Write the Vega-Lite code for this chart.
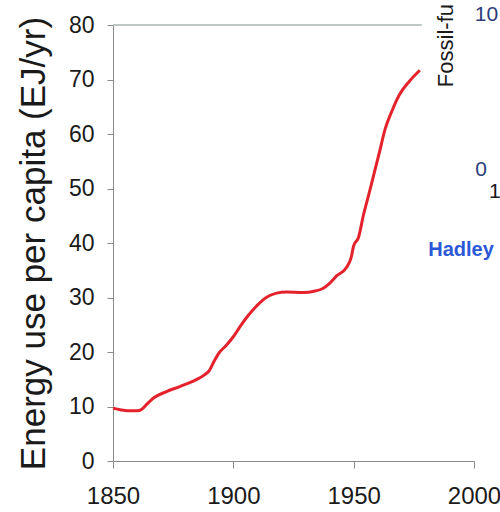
{
  "$schema": "https://vega.github.io/schema/vega-lite/v6.json",
  "width": 361,
  "height": 436,
  "autosize": {"type": "none"},
  "padding": {"left": 113, "top": 25, "right": 26, "bottom": 51},
  "background": "white",
  "config": {
    "view": {"stroke": null},
    "font": "Liberation Sans",
    "axis": {"labelFont": "Liberation Sans", "titleFont": "Liberation Sans"}
  },
  "datasets": {
    "energy": [
      {"year": 1850, "value": 9.7},
      {"year": 1853, "value": 9.4},
      {"year": 1856, "value": 9.2},
      {"year": 1860, "value": 9.2},
      {"year": 1862, "value": 9.5},
      {"year": 1864, "value": 10.4},
      {"year": 1867, "value": 11.6},
      {"year": 1872, "value": 12.7},
      {"year": 1878, "value": 13.7},
      {"year": 1884, "value": 14.8},
      {"year": 1888, "value": 15.8},
      {"year": 1890, "value": 16.6},
      {"year": 1892, "value": 18.3},
      {"year": 1894, "value": 19.8},
      {"year": 1897, "value": 21.2},
      {"year": 1900, "value": 22.8},
      {"year": 1903, "value": 24.8},
      {"year": 1906, "value": 26.6},
      {"year": 1910, "value": 28.6},
      {"year": 1914, "value": 30.1},
      {"year": 1918, "value": 30.8},
      {"year": 1922, "value": 31.0},
      {"year": 1929, "value": 30.9},
      {"year": 1934, "value": 31.2},
      {"year": 1937, "value": 31.6},
      {"year": 1940, "value": 32.6},
      {"year": 1943, "value": 34.0},
      {"year": 1947, "value": 35.5},
      {"year": 1949, "value": 37.4},
      {"year": 1950, "value": 39.5},
      {"year": 1952, "value": 41.0},
      {"year": 1954, "value": 45.0},
      {"year": 1956.7, "value": 49.6},
      {"year": 1960.9, "value": 57.0},
      {"year": 1963, "value": 60.8},
      {"year": 1965.7, "value": 64.0},
      {"year": 1969, "value": 67.2},
      {"year": 1973, "value": 69.6},
      {"year": 1977.5, "value": 71.7}
    ]
  },
  "layer": [
    {
      "data": {"name": "energy"},
      "mark": {"type": "line", "color": "#e3222c", "strokeWidth": 3, "interpolate": "monotone"},
      "encoding": {
        "x": {
          "field": "year", "type": "quantitative",
          "scale": {"domain": [1850, 2000], "nice": false, "zero": false},
          "axis": {
            "values": [1850, 1900, 1950, 2000], "format": "d", "title": null, "grid": false,
            "labelFontSize": 24, "labelColor": "#1a1a1a", "labelPadding": 16,
            "tickSize": 7, "tickColor": "#8a8a8a", "domainColor": "#8a8a8a",
            "labelFlush": false, "labelOverlap": false
          }
        },
        "y": {
          "field": "value", "type": "quantitative",
          "scale": {"domain": [0, 80], "nice": false},
          "axis": {
            "values": [0, 10, 20, 30, 40, 50, 60, 70, 80], "title": "Energy use per capita (EJ/yr)",
            "grid": false, "labelFontSize": 23, "labelColor": "#1a1a1a", "labelPadding": 13,
            "tickSize": 6, "tickColor": "#8a8a8a", "domainColor": "#8a8a8a",
            "titleFontSize": 35, "titleFontWeight": "normal", "titleColor": "#1a1a1a", "titlePadding": 17,
            "labelFlush": false
          }
        }
      }
    },
    {
      "data": {"values": [{}]},
      "mark": {"type": "rule", "color": "#a9b3b3", "strokeWidth": 1.5},
      "encoding": {
        "y": {"datum": 80},
        "x": {"datum": 1850},
        "x2": {"datum": 1978.3}
      }
    },
    {
      "data": {"values": [{"t": "Fossil-fu", "year": 1988.3, "value": 68.6}]},
      "mark": {"type": "text", "angle": 270, "align": "left", "baseline": "middle", "fontSize": 22, "color": "#1a1a1a"},
      "encoding": {"x": {"field": "year", "type": "quantitative"}, "y": {"field": "value", "type": "quantitative"}, "text": {"field": "t"}}
    },
    {
      "data": {"values": [{"t": "10", "year": 2000.3, "value": 81.8}, {"t": "0", "year": 2000.5, "value": 53.4}]},
      "mark": {"type": "text", "align": "left", "baseline": "middle", "fontSize": 21, "color": "#2c3c7c"},
      "encoding": {"x": {"field": "year", "type": "quantitative"}, "y": {"field": "value", "type": "quantitative"}, "text": {"field": "t"}}
    },
    {
      "data": {"values": [{"t": "1", "year": 2006.2, "value": 49.4}]},
      "mark": {"type": "text", "align": "left", "baseline": "middle", "fontSize": 21, "color": "#1a1a1a"},
      "encoding": {"x": {"field": "year", "type": "quantitative"}, "y": {"field": "value", "type": "quantitative"}, "text": {"field": "t"}}
    },
    {
      "data": {"values": [{"t": "Hadley", "year": 1981, "value": 38.7}]},
      "mark": {"type": "text", "align": "left", "baseline": "middle", "fontSize": 20, "fontWeight": "bold", "color": "#2b58d6"},
      "encoding": {"x": {"field": "year", "type": "quantitative"}, "y": {"field": "value", "type": "quantitative"}, "text": {"field": "t"}}
    }
  ]
}
